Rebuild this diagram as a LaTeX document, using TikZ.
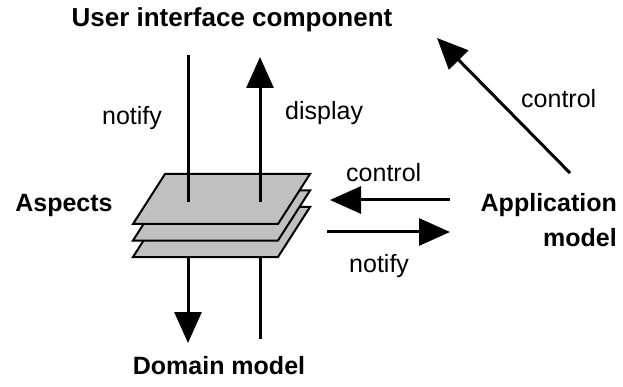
\documentclass[tikz,border=0pt]{standalone}
\usepackage{fontspec}
\setmainfont{Liberation Sans}
\usetikzlibrary{arrows.meta}
\definecolor{plategray}{HTML}{C0C0C0}
\tikzset{
  lbl/.style={inner sep=0pt, font=\fontsize{25}{35}\selectfont},
  blbl/.style={inner sep=0pt, font=\fontsize{25}{35}\selectfont\bfseries},
  wire/.style={line width=3pt},
  arr/.style={line width=3pt, -{Triangle[width=27pt,length=31pt]}},
  plate/.style={fill=plategray, draw=black, line width=2pt, line join=miter}
}
\begin{document}
\begin{tikzpicture}[x=1pt,y=-1pt]
\useasboundingbox (0,0) rectangle (623,387);
% plates
\foreach \d in {33,16.5,0}{
  \draw[plate] (165,174+\d) -- (310,174+\d) -- (278,224+\d) -- (133,224+\d) -- cycle;
}
% coordinates
\coordinate (uiL) at (188,55);
\coordinate (aspTL) at (188,202);
\coordinate (aspTR) at (260,202);
\coordinate (uiR) at (260,57);
\coordinate (aspBL) at (188,257);
\coordinate (aspBR) at (260,257);
\coordinate (dmL) at (188,343);
\coordinate (dmR) at (260,339);
\coordinate (appC) at (450,200);
\coordinate (aspC) at (330,200);
\coordinate (aspN) at (327,232);
\coordinate (appN) at (450,232);
\coordinate (appD) at (570,173);
\coordinate (uiD) at (437,38);
% labels
\node[blbl, anchor=base, font=\fontsize{26}{35}\selectfont\bfseries] (ui) at (232,27) {User interface component};
\node[blbl, anchor=base] (asp) at (64,212) {Aspects};
\node[blbl, anchor=base east, align=right] (app) at (617,247) {Application\\model};
\node[blbl, anchor=base] (dm) at (219,374) {Domain model};
\node[lbl, anchor=base] (n1) at (132,125) {notify};
\node[lbl, anchor=base west] (d1) at (285,120) {display};
\node[lbl, anchor=base west] (c1) at (346,182) {control};
\node[lbl, anchor=base west] (n2) at (349,272) {notify};
\node[lbl, anchor=base west] (c2) at (521,108) {control};
% connectors
\draw[wire] (uiL) -- (aspTL);
\draw[arr] (aspTR) -- (uiR);
\draw[arr] (aspBL) -- (dmL);
\draw[wire] (dmR) -- (aspBR);
\draw[arr] (appC) -- (aspC);
\draw[arr] (aspN) -- (appN);
\draw[arr] (appD) -- (uiD);
\end{tikzpicture}
\end{document}
